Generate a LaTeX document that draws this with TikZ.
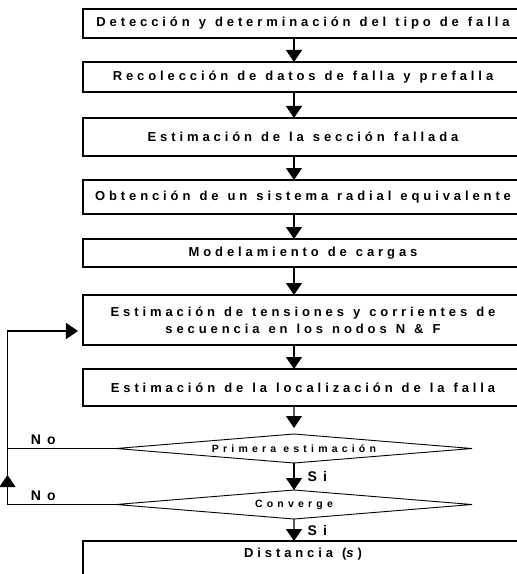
\documentclass[tikz,border=0pt]{standalone}
\usepackage{fontspec}
\setmainfont{Liberation Sans}
\newfontfamily\boxfont[LetterSpace=30,WordSpace=1.2]{Liberation Sans}
\newfontfamily\decfont[LetterSpace=40]{Liberation Sans}
\newfontfamily\lblfont[LetterSpace=45]{Liberation Sans}
\usetikzlibrary{arrows.meta,positioning,shapes.geometric}

\begin{document}
\begin{tikzpicture}[
    x=1bp, y=1bp,
    node distance=24bp,
    proc/.style={draw, line width=1.2bp, align=center, minimum width=440bp,
                 inner sep=2bp, outer sep=0pt,
                 font={\boxfont\bfseries\fontsize{13bp}{17bp}\selectfont}},
    dec/.style={draw, diamond, aspect=12.28, line width=0.9bp, inner sep=0pt, outer sep=0pt,
                minimum width=356bp, minimum height=29bp,
                font={\decfont\bfseries\fontsize{10.5bp}{12bp}\selectfont}},
    lbl/.style={inner sep=3bp, font={\lblfont\bfseries\fontsize{14bp}{16bp}\selectfont}},
    arrow/.style={-{Triangle[width=16bp,length=12bp]}, line width=1.2bp}
]
\useasboundingbox (0,0) rectangle (517,-574);
\clip (0,0) rectangle (517,-574);

\node[proc, minimum height=29bp] (det) at (303,-23.5) {Detección y determinación del tipo de falla};
\node[proc, minimum height=30bp, below=of det] (rec) {Recolección de datos de falla y prefalla};
\node[proc, minimum height=38bp, below=26bp of rec] (sec) {Estimación de la sección fallada};
\node[proc, minimum height=34bp, below=of sec] (obt) {Obtención de un sistema radial equivalente};
\node[proc, minimum height=28bp, below=25bp of obt] (mod) {Modelamiento de cargas};
\node[proc, minimum height=50bp, below=28bp of mod] (tens) {Estimación de tensiones y corrientes de\\ secuencia en los nodos N \& F};
\node[proc, minimum height=37bp, below=of tens] (loc) {Estimación de la localización de la falla};
\node[dec, below=28bp of loc, xshift=-9bp] (prim) {Primera estimación};
\node[dec, below=27bp of prim] (conv) {Converge};
\node[proc, text height=12bp, text depth=20bp, inner ysep=4bp, below=22bp of conv, xshift=9bp] (dist) {Distancia (\textit{s})};

\coordinate (ax) at (294,0);
\coordinate (lp) at (7.5,0);
\path (conv.west -| lp) ++(0,29.5bp) coordinate (turn);

\draw[arrow] (det.south -| ax) -- (rec.north -| ax);
\draw[arrow] (rec.south -| ax) -- (sec.north -| ax);
\draw[arrow] (sec.south -| ax) -- (obt.north -| ax);
\draw[arrow] (obt.south -| ax) -- (mod.north -| ax);
\draw[arrow] (mod.south -| ax) -- (tens.north -| ax);
\draw[arrow] (tens.south -| ax) -- (loc.north -| ax);
\draw[arrow, shorten >=6bp] (loc.south -| ax) -- (prim.north);
\draw[arrow] (prim.south) -- node[lbl, right=10bp] {Si} (conv.north);
\draw[arrow] (conv.south) -- node[lbl, right=10bp] {Si} (dist.north -| ax);
\draw[line width=1.2bp] (prim.west) -- node[lbl, above, pos=0.67] {No} (prim.west -| lp);
\draw[arrow] (conv.west) -- node[lbl, above, pos=0.67] {No} (conv.west -| lp) -- (turn);
\draw[arrow, shorten >=5bp] (turn) |- ([yshift=-11bp]tens.west);
\end{tikzpicture}
\end{document}
